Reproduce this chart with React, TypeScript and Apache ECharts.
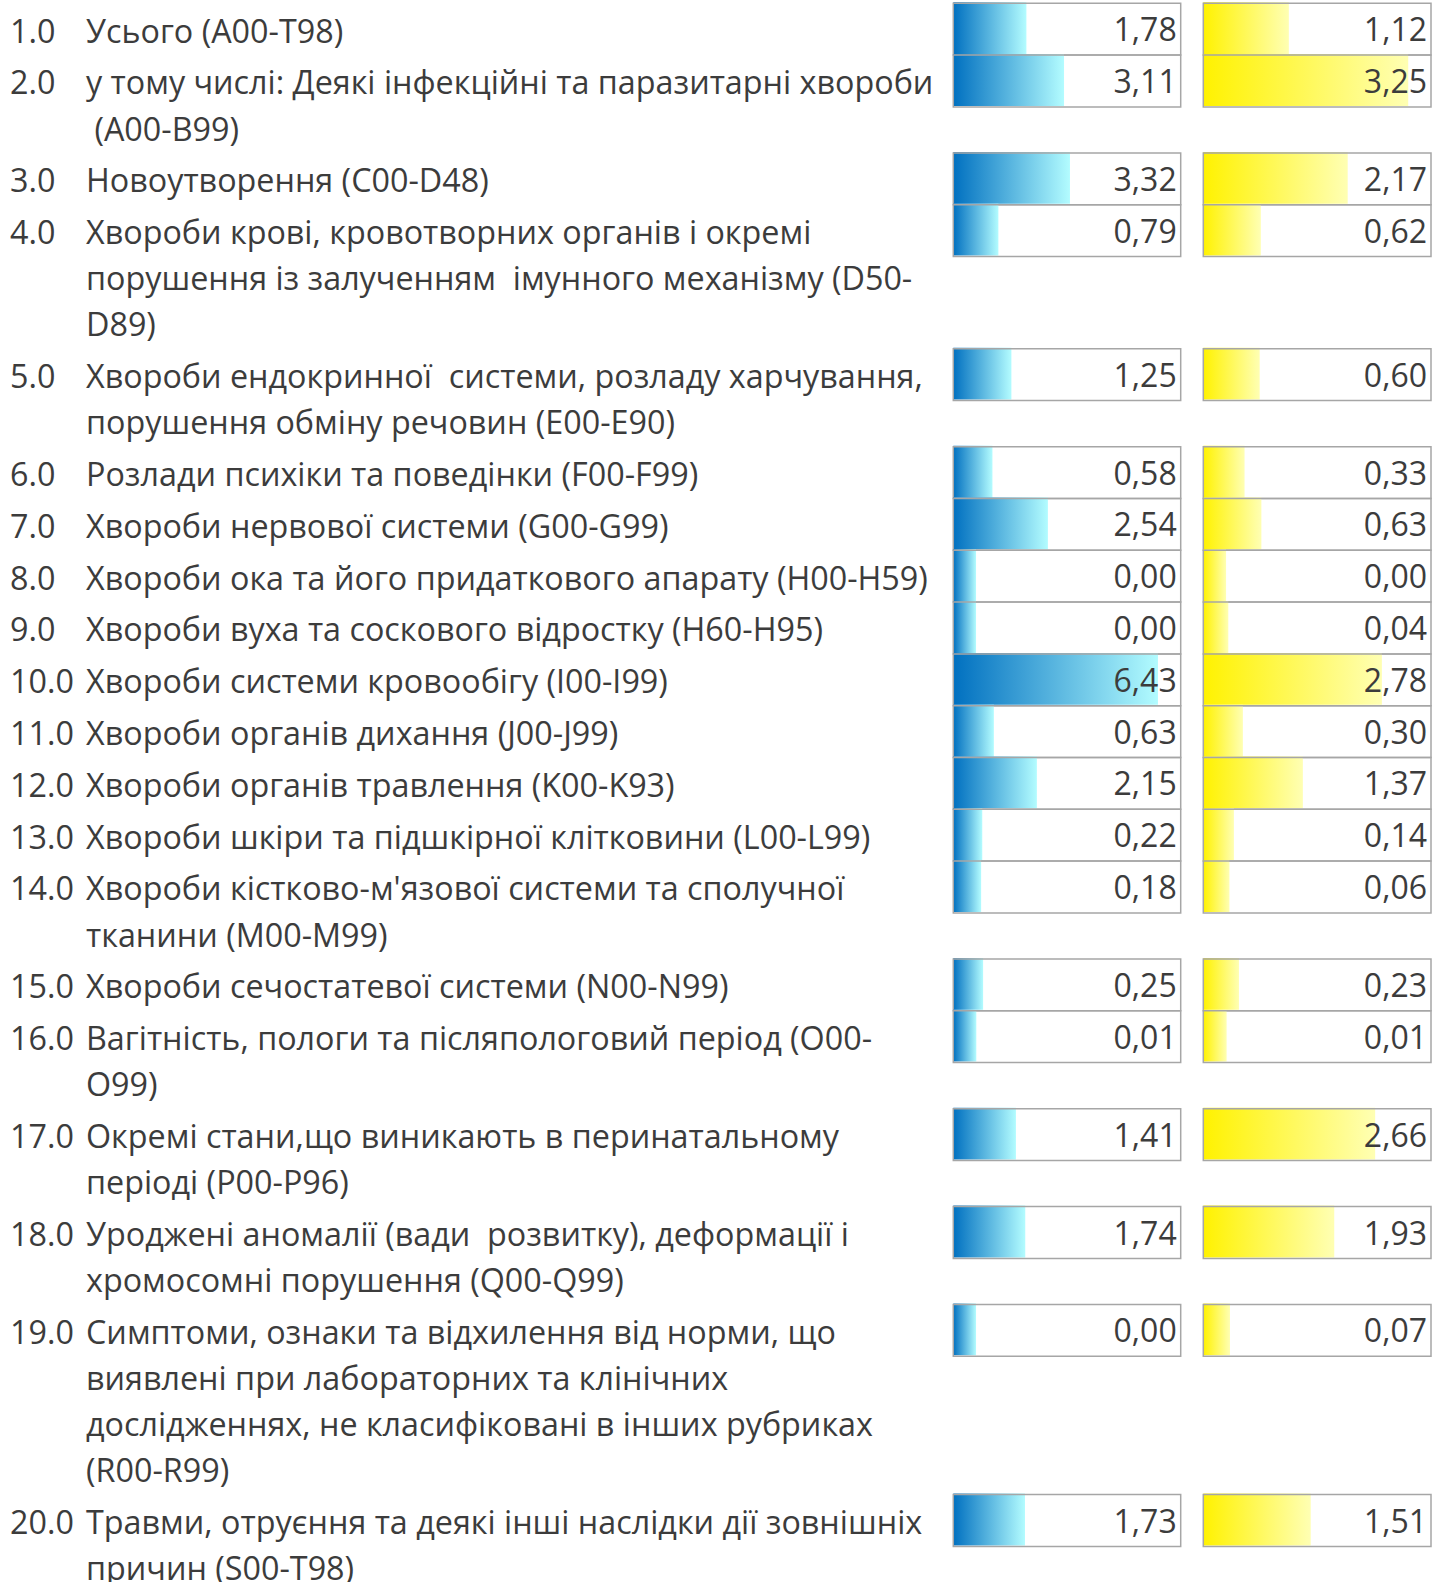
import React, { useEffect, useRef } from 'react';
import * as echarts from 'echarts';

const codes = ['1.0', '2.0', '3.0', '4.0', '5.0', '6.0', '7.0', '8.0', '9.0', '10.0',
  '11.0', '12.0', '13.0', '14.0', '15.0', '16.0', '17.0', '18.0', '19.0', '20.0'];

const names = [
  'Усього (A00-T98)',
  'у тому числі: Деякі інфекційні та паразитарні хвороби\n (A00-B99)',
  'Новоутворення (C00-D48)',
  'Хвороби крові, кровотворних органів і окремі\nпорушення із залученням  імунного механізму (D50-\nD89)',
  'Хвороби ендокринної  системи, розладу харчування,\nпорушення обміну речовин (E00-E90)',
  'Розлади психіки та поведінки (F00-F99)',
  'Хвороби нервової системи (G00-G99)',
  'Хвороби ока та його придаткового апарату (H00-H59)',
  'Хвороби вуха та соскового відростку (H60-H95)',
  'Хвороби системи кровообігу (I00-I99)',
  'Хвороби органів дихання (J00-J99)',
  'Хвороби органів травлення (K00-K93)',
  'Хвороби шкіри та підшкірної клітковини (L00-L99)',
  "Хвороби кістково-м'язової системи та сполучної\nтканини (M00-M99)",
  'Хвороби сечостатевої системи (N00-N99)',
  'Вагітність, пологи та післяпологовий період (O00-\nO99)',
  'Окремі стани,що виникають в перинатальному\nперіоді (P00-P96)',
  'Уроджені аномалії (вади  розвитку), деформації і\nхромосомні порушення (Q00-Q99)',
  'Симптоми, ознаки та відхилення від норми, що\nвиявлені при лабораторних та клінічних\nдослідженнях, не класифіковані в інших рубриках\n(R00-R99)',
  'Травми, отруєння та деякі інші наслідки дії зовнішніх\nпричин (S00-T98)',
];

const valuesBlue = [1.78, 3.11, 3.32, 0.79, 1.25, 0.58, 2.54, 0.0, 0.0, 6.43,
  0.63, 2.15, 0.22, 0.18, 0.25, 0.01, 1.41, 1.74, 0.0, 1.73];

const valuesYellow = [1.12, 3.25, 2.17, 0.62, 0.6, 0.33, 0.63, 0.0, 0.04, 2.78,
  0.3, 1.37, 0.14, 0.06, 0.23, 0.01, 2.66, 1.93, 0.07, 1.51];

// layout constants
const W = 1446;
const H = 1582;
const ROW_H = 51.8;
const LINE_H = 46.1;
const TOP = 3.3;
const TEXT_FONT = 'Open Sans';
const TEXT_COLOR = '#3c3c3c';
const BORDER = '#a6a6a6';

function buildRows() {
  let y = TOP;
  return names.map((n, i) => {
    const lines = n.split('\n').length;
    const r = { i, yTop: y };
    y += ROW_H + (lines - 1) * LINE_H;
    return r;
  });
}

function fmt(v: number) {
  return v.toFixed(2).replace('.', ',');
}

function barSeries(gridIdx: number, values: number[], c0: string, c1: string, rows: any[]) {
  const mx = Math.max(...values);
  const xMin = -0.125 * mx;
  const xMax = 1.125 * mx;
  return {
    axis: { gridIndex: gridIdx, type: 'value', min: xMin, max: xMax, show: false },
    series: {
      type: 'custom',
      xAxisIndex: gridIdx,
      yAxisIndex: gridIdx,
      clip: false,
      data: rows.map((r) => [values[r.i], r.yTop]),
      renderItem: (params: any, api: any) => {
        const v = api.value(0);
        const yTop = api.value(1);
        const p0 = api.coord([xMin, yTop]);
        const p1 = api.coord([v, yTop + ROW_H]);
        const pR = api.coord([xMax, yTop + ROW_H]);
        const h = p1[1] - p0[1];
        return {
          type: 'group',
          children: [
            {
              type: 'rect',
              shape: { x: p0[0], y: p0[1] - 1, width: p1[0] - p0[0], height: h },
              style: {
                fill: new echarts.graphic.LinearGradient(0, 0, 1, 0, [
                  { offset: 0, color: c0 },
                  { offset: 1, color: c1 },
                ]),
              },
            },
            {
              type: 'rect',
              shape: { x: p0[0], y: p0[1], width: pR[0] - p0[0], height: h },
              style: { fill: 'none', stroke: BORDER, lineWidth: 1.5 },
            },
            {
              type: 'text',
              x: pR[0] - 4,
              y: p0[1] + h / 2 - 0.5,
              style: {
                text: fmt(v),
                fill: TEXT_COLOR,
                fontFamily: TEXT_FONT,
                fontSize: 32,
                align: 'right',
                textAlign: 'right',
                verticalAlign: 'middle',
                textVerticalAlign: 'middle',
              },
            },
          ],
        };
      },
    },
  };
}

export default function App() {
  const ref = useRef<HTMLDivElement>(null);
  useEffect(() => {
    if (!ref.current) return;
    const chart = echarts.init(ref.current, undefined, { renderer: 'svg' });
    const rows = buildRows();
    const blue = barSeries(0, valuesBlue, '#0070c0', '#b3fcff', rows);
    const yellow = barSeries(1, valuesYellow, '#fff200', '#ffffb3', rows);
    const yAxisBase = { type: 'value', min: 0, max: H, inverse: true, show: false };
    chart.setOption({
      animation: false,
      backgroundColor: '#ffffff',
      grid: [
        { left: 953.3, width: 227.4, top: 0, height: H },
        { left: 1203.3, width: 227.7, top: 0, height: H },
        { left: 0, width: 940, top: 0, height: H },
      ],
      xAxis: [blue.axis, yellow.axis, { gridIndex: 2, type: 'value', min: 0, max: 1, show: false }],
      yAxis: [0, 1, 2].map((g) => ({ ...yAxisBase, gridIndex: g })),
      series: [
        blue.series,
        yellow.series,
        {
          type: 'custom',
          xAxisIndex: 2,
          yAxisIndex: 2,
          clip: false,
          data: rows.map((r) => [0, r.yTop, r.i]),
          renderItem: (params: any, api: any) => {
            const yTop = api.value(1);
            const idx = api.value(2);
            const p = api.coord([0, yTop + ROW_H / 2]);
            const common = {
              fill: TEXT_COLOR,
              fontFamily: TEXT_FONT,
              fontSize: 32.3,
              lineHeight: LINE_H,
              align: 'left',
              textAlign: 'left',
              verticalAlign: 'top',
              textVerticalAlign: 'top',
            };
            const y = p[1] - LINE_H / 2 + 0.5;
            return {
              type: 'group',
              children: [
                { type: 'text', x: p[0] + 10, y, style: { ...common, text: codes[idx] } },
                { type: 'text', x: p[0] + 86, y, style: { ...common, text: names[idx] } },
              ],
            };
          },
        },
      ],
    });
    return () => chart.dispose();
  }, []);
  return (
    <div
      ref={ref}
      style={{ position: 'absolute', left: 0, top: 0, width: W, height: H, background: '#fff' }}
    />
  );
}
